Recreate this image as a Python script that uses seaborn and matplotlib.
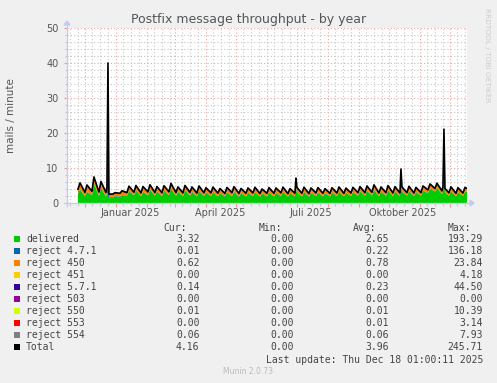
import numpy as np
import pandas as pd
import matplotlib
matplotlib.use("Agg")
import matplotlib.pyplot as plt
from matplotlib.patches import Rectangle, Polygon
from matplotlib.lines import Line2D
import seaborn as sns

# ---------------- data ----------------
first_sunday = "2024-11-24"     # first week with data (Sunday)
n_weeks = 56
window_start = "2024-11-13 01:00"
window_end = "2025-12-18 01:00"

# weekly troughs (Sunday) and peaks (Tuesday), mails/minute
delivered_sun = [2.6, 1.8, 2.1, 1.9, 1.8, 1.6, 1.8, 2.0,
                 2.1, 1.9, 2.1, 2.0, 1.9, 2.2, 2.0, 1.9,
                 2.0, 1.8, 1.9, 1.9, 1.8, 1.8, 1.9, 1.7,
                 1.8, 1.9, 1.7, 1.8, 1.8, 1.9, 1.7, 1.8,
                 1.8, 1.7, 1.9, 1.8, 1.8, 1.9, 1.8, 1.9,
                 2.0, 2.0, 2.1, 1.9, 2.0, 1.9, 1.9, 2.0,
                 1.9, 2.0, 2.8, 3.2, 2.5, 2.0, 1.9, 2.0]
delivered_tue = [3.9, 3.2, 5.5, 4.2, 3.3, 1.9, 2.2, 3.4,
                 3.6, 3.2, 3.8, 3.3, 3.5, 4.1, 3.2, 3.6,
                 3.1, 3.4, 3.0, 3.1, 2.8, 3.0, 3.2, 2.8,
                 2.9, 3.1, 2.7, 3.0, 2.9, 3.1, 2.8, 3.0,
                 3.1, 2.9, 3.0, 2.8, 3.0, 3.2, 2.9, 3.1,
                 3.3, 3.5, 3.7, 3.2, 3.6, 3.3, 3.2, 3.4,
                 3.1, 3.5, 4.1, 4.3, 3.3, 3.3, 3.1, 3.2]
r450_sun = [0.9, 0.8, 0.8, 0.8, 0.8, 0.6, 0.6, 0.6,
            0.6, 0.6, 0.7, 0.6, 0.6, 0.6, 0.6, 0.6,
            0.6, 0.6, 0.6, 0.6, 0.6, 0.5, 0.6, 0.6,
            0.6, 0.6, 0.6, 0.6, 0.6, 0.6, 0.6, 0.6,
            0.6, 0.6, 0.6, 0.6, 0.6, 0.6, 0.6, 0.6,
            0.6, 0.6, 0.6, 0.6, 0.6, 0.6, 0.6, 0.6,
            0.6, 0.6, 0.6, 0.6, 0.6, 0.6, 0.6, 0.6]
r450_tue = [1.4, 1.5, 1.5, 1.5, 1.0, 0.7, 0.9, 1.0,
            1.0, 1.1, 1.0, 1.0, 1.0, 1.1, 1.0, 1.0,
            1.0, 1.0, 0.9, 1.0, 0.9, 1.0, 1.0, 0.9,
            1.0, 1.0, 0.9, 1.0, 1.0, 1.0, 0.9, 1.0,
            1.0, 1.0, 1.0, 0.9, 1.0, 1.0, 1.0, 1.0,
            1.0, 1.0, 1.1, 1.0, 1.0, 1.0, 1.0, 1.0,
            1.0, 1.0, 1.0, 1.0, 1.0, 1.0, 1.0, 1.0]
r471_week = [0.12, 0.12, 0.12, 0.12, 0.10, 0.10, 0.10, 0.10,
             0.10, 0.10, 0.10, 0.10, 0.10, 0.10, 0.10, 0.10,
             0.12, 0.12, 0.12, 0.10, 0.10, 0.10, 0.12, 0.12,
             0.10, 0.10, 0.10, 0.10, 0.10, 0.12, 0.10, 0.10,
             0.10, 0.10, 0.10, 0.10, 0.10, 0.10, 0.10, 0.10,
             0.10, 0.10, 0.10, 0.10, 0.10, 0.10, 0.10, 0.10,
             0.10, 0.10, 0.10, 0.10, 0.10, 0.08, 0.06, 0.05]
r571_week = [0.27, 0.27, 0.27, 0.27, 0.25, 0.20, 0.22, 0.25,
             0.25, 0.25, 0.25, 0.25, 0.28, 0.25, 0.25, 0.25,
             0.30, 0.30, 0.28, 0.28, 0.28, 0.30, 0.30, 0.28,
             0.25, 0.25, 0.25, 0.25, 0.25, 0.25, 0.25, 0.25,
             0.25, 0.25, 0.25, 0.25, 0.22, 0.22, 0.22, 0.22,
             0.22, 0.22, 0.22, 0.22, 0.22, 0.22, 0.22, 0.22,
             0.22, 0.22, 0.20, 0.20, 0.20, 0.18, 0.16, 0.15]
r554_week = [0.06, 0.06, 0.06, 0.06, 0.06, 0.06, 0.06, 0.06,
             0.06, 0.06, 0.06, 0.06, 0.06, 0.06, 0.06, 0.06,
             0.06, 0.06, 0.06, 0.06, 0.06, 0.06, 0.06, 0.06,
             0.06, 0.06, 0.06, 0.06, 0.06, 0.06, 0.06, 0.06,
             0.06, 0.06, 0.06, 0.06, 0.06, 0.06, 0.06, 0.06,
             0.06, 0.06, 0.06, 0.06, 0.06, 0.06, 0.06, 0.06,
             0.06, 0.06, 0.06, 0.06, 0.06, 0.06, 0.06, 0.06]

# short bursts (daily values around the spikes)
spike_dates = ["2024-12-23", "2024-12-24", "2024-12-25", "2025-06-30",
               "2025-10-13", "2025-11-24", "2025-11-25", "2025-11-26"]
spike_delivered = [3.2, 1.5, 1.6, 4.5, 7.5, 3.5, 18.5, 3.0]
spike_r471 = [0.15, 37.0, 0.10, 0.20, 0.20, 0.10, 0.30, 0.10]
spike_r450 = [1.0, 1.0, 0.6, 1.2, 1.0, 0.9, 1.5, 0.8]
spike_r571 = [0.25, 0.40, 0.20, 1.00, 0.80, 0.20, 0.70, 0.20]
spike_r554 = [0.06, 0.10, 0.05, 0.20, 0.20, 0.06, 0.10, 0.06]

# last sample
last_date = "2025-12-18"
last_delivered, last_r471, last_r450, last_r571, last_r554 = 3.32, 0.01, 0.62, 0.14, 0.06

# legend table
legend_labels = ["delivered", "reject 4.7.1", "reject 450", "reject 451", "reject 5.7.1",
                 "reject 503", "reject 550", "reject 553", "reject 554", "Total"]
legend_colors = ["#00CC00", "#0066B3", "#FF8000", "#FFCC00", "#330099",
                 "#990099", "#CCFF00", "#FF0000", "#808080", "#000000"]
cur_vals = ["3.32", "0.01", "0.62", "0.00", "0.14", "0.00", "0.01", "0.00", "0.06", "4.16"]
min_vals = ["0.00"] * 10
avg_vals = ["2.65", "0.22", "0.78", "0.00", "0.23", "0.00", "0.01", "0.01", "0.06", "3.96"]
max_vals = ["193.29", "136.18", "23.84", "4.18", "44.50", "0.00", "10.39", "3.14", "7.93", "245.71"]

title = "Postfix message throughput - by year"
ylabel = "mails / minute"
month_labels = ["Januar 2025", "April 2025", "Juli 2025", "Oktober 2025"]
month_label_dates = ["2025-01-15", "2025-04-15", "2025-07-15", "2025-10-15"]
yticks = [0, 10, 20, 30, 40, 50]
last_update = "Last update: Thu Dec 18 01:00:11 2025"
footer = "Munin 2.0.73"
watermark = "RRDTOOL / TOBI OETIKER"

# ---------------- build table ----------------
sundays = pd.date_range(first_sunday, periods=n_weeks, freq="7D")
tuesdays = sundays + pd.Timedelta(days=2)
cols = ["delivered", "r471", "r450", "r571", "r554"]
parts = [
    pd.DataFrame({"date": sundays, "delivered": delivered_sun, "r471": r471_week,
                  "r450": r450_sun, "r571": r571_week, "r554": r554_week, "prio": 0}),
    pd.DataFrame({"date": tuesdays, "delivered": delivered_tue, "r471": r471_week,
                  "r450": r450_tue, "r571": r571_week, "r554": r554_week, "prio": 0}),
    pd.DataFrame({"date": pd.to_datetime(spike_dates), "delivered": spike_delivered,
                  "r471": spike_r471, "r450": spike_r450, "r571": spike_r571,
                  "r554": spike_r554, "prio": 1}),
    pd.DataFrame({"date": [pd.Timestamp(last_date)], "delivered": [last_delivered],
                  "r471": [last_r471], "r450": [last_r450], "r571": [last_r571],
                  "r554": [last_r554], "prio": 1}),
]
df = pd.concat(parts, ignore_index=True)
df = df.sort_values(["date", "prio"]).drop_duplicates("date", keep="last")
df = df.reset_index(drop=True)
df["Total"] = df[cols].sum(axis=1)

# ---------------- figure ----------------
W, H = 497, 383
plt.rcParams["font.family"] = ["DejaVu Sans"]
fig = plt.figure(figsize=(W / 100, H / 100), dpi=100, facecolor="#F0F0F0")

def fx(x):
    return x / W

def fy(y):
    return 1 - y / H

ax = fig.add_axes([fx(67), fy(203), 400 / W, 175 / H])
ax.set_facecolor("#FFFFFF")
for s in ax.spines.values():
    s.set_visible(False)

x0, x1 = pd.Timestamp(window_start), pd.Timestamp(window_end)

# grid
minor_col = "#C8C8C8"
major_col = "#EDA4A4"
dots = (0, (1, 2))
for yv in range(2, 50, 2):
    if yv % 10:
        ax.axhline(yv, color=minor_col, lw=0.8, ls=dots, zorder=1)
for yv in range(10, 51, 10):
    ax.axhline(yv, color=major_col, lw=0.8, ls=dots, zorder=1)

month_starts = pd.date_range("2024-12-01", "2025-12-01", freq="MS")
minor_dates = []
for m in pd.date_range("2024-11-01", "2025-12-01", freq="MS"):
    for d in (8, 16, 24):
        t = m + pd.Timedelta(days=d - 1)
        if x0 < t < x1:
            minor_dates.append(t)
for t in minor_dates:
    ax.axvline(t, color=minor_col, lw=0.8, ls=dots, zorder=1)
for t in month_starts:
    ax.axvline(t, color=major_col, lw=0.8, ls=dots, zorder=1)

# stacked areas + total line
ax.stackplot(df["date"], *[df[c] for c in cols],
             colors=["#00CC00", "#0066B3", "#FF8000", "#330099", "#808080"],
             linewidth=0, zorder=3, antialiased=True)
sns.lineplot(data=df, x="date", y="Total", color="black", linewidth=1.2,
             ax=ax, zorder=4, legend=False)

ax.set_xlim(x0, x1)
ax.set_ylim(0, 50)
ax.set_xlabel("")
ax.set_ylabel("")

ax.set_xticks(month_starts)
ax.set_xticks(minor_dates, minor=True)
ax.tick_params(axis="x", which="major", length=3, width=0.8, color="#EE9A9A",
               labelbottom=False)
ax.tick_params(axis="x", which="minor", length=2, width=0.8, color="#C8C8C8")
ax.set_yticks(yticks)
ax.set_yticklabels([str(v) for v in yticks])
ax.set_yticks(list(range(0, 51, 2)), minor=True)
ax.tick_params(axis="y", which="major", length=2.5, width=0.8, color="#EE9A9A",
               labelsize=7, labelcolor="#555555", pad=3.5)
ax.tick_params(axis="y", which="minor", length=1.5, width=0.8, color="#C8C8C8")

# month labels (centred mid-month, rrdtool style)
for lab, d in zip(month_labels, month_label_dates):
    ax.text(pd.Timestamp(d), -9.5 / 175, lab, transform=ax.get_xaxis_transform(),
            ha="center", va="center", fontsize=7, color="#555555")

# axis lines with arrows
axis_col = "#C4CAF2"
fig.add_artist(Line2D([fx(64), fx(470)], [fy(203), fy(203)], color=axis_col, lw=1.0,
                      transform=fig.transFigure, zorder=10))
fig.add_artist(Polygon([[fx(470), fy(200)], [fx(470), fy(206)], [fx(474), fy(203)]],
                       closed=True, color=axis_col, transform=fig.transFigure, zorder=10))
fig.add_artist(Line2D([fx(67), fx(67)], [fy(206), fy(25)], color=axis_col, lw=1.0,
                      transform=fig.transFigure, zorder=10))
fig.add_artist(Polygon([[fx(64), fy(25)], [fx(70), fy(25)], [fx(67), fy(21)]],
                       closed=True, color=axis_col, transform=fig.transFigure, zorder=10))

# titles
fig.text(fx(249), fy(20), title, ha="center", va="center", fontsize=9, color="#555555")
fig.text(fx(11), fy(115.5), ylabel, ha="center", va="center", rotation=90,
         fontsize=7.5, color="#555555")
fig.text(fx(487), fy(55), watermark, ha="center", va="center", rotation=-90,
         fontsize=5.3, color="#CCCCCC")

# legend table
mono = "DejaVu Sans Mono"
tcol = "#444444"
hdr_y = 227.6
for txt, xr in zip(["Cur:", "Min:", "Avg:", "Max:"], [187, 282, 376.5, 471]):
    fig.text(fx(xr), fy(hdr_y), txt, ha="right", va="center", family=mono,
             fontsize=7, color=tcol)
col_right = [199.5, 294, 388.5, 483]
for i, lab in enumerate(legend_labels):
    yy = 239.4 + 12 * i
    fig.add_artist(Rectangle((fx(14), fy(yy + 3)), 6 / W, 6 / H,
                             transform=fig.transFigure, facecolor=legend_colors[i],
                             edgecolor="none"))
    fig.text(fx(26), fy(yy), lab, ha="left", va="center", family=mono,
             fontsize=7, color=tcol)
    for xr, vals in zip(col_right, [cur_vals, min_vals, avg_vals, max_vals]):
        fig.text(fx(xr), fy(yy), vals[i], ha="right", va="center", family=mono,
                 fontsize=7, color=tcol)
fig.text(fx(483), fy(359.7), last_update, ha="right", va="center", family=mono,
         fontsize=7, color=tcol)
fig.text(fx(248), fy(372), footer, ha="center", va="center", fontsize=5.5,
         color="#BBBBBB")

fig.savefig("out.png", dpi=100, facecolor=fig.get_facecolor())
